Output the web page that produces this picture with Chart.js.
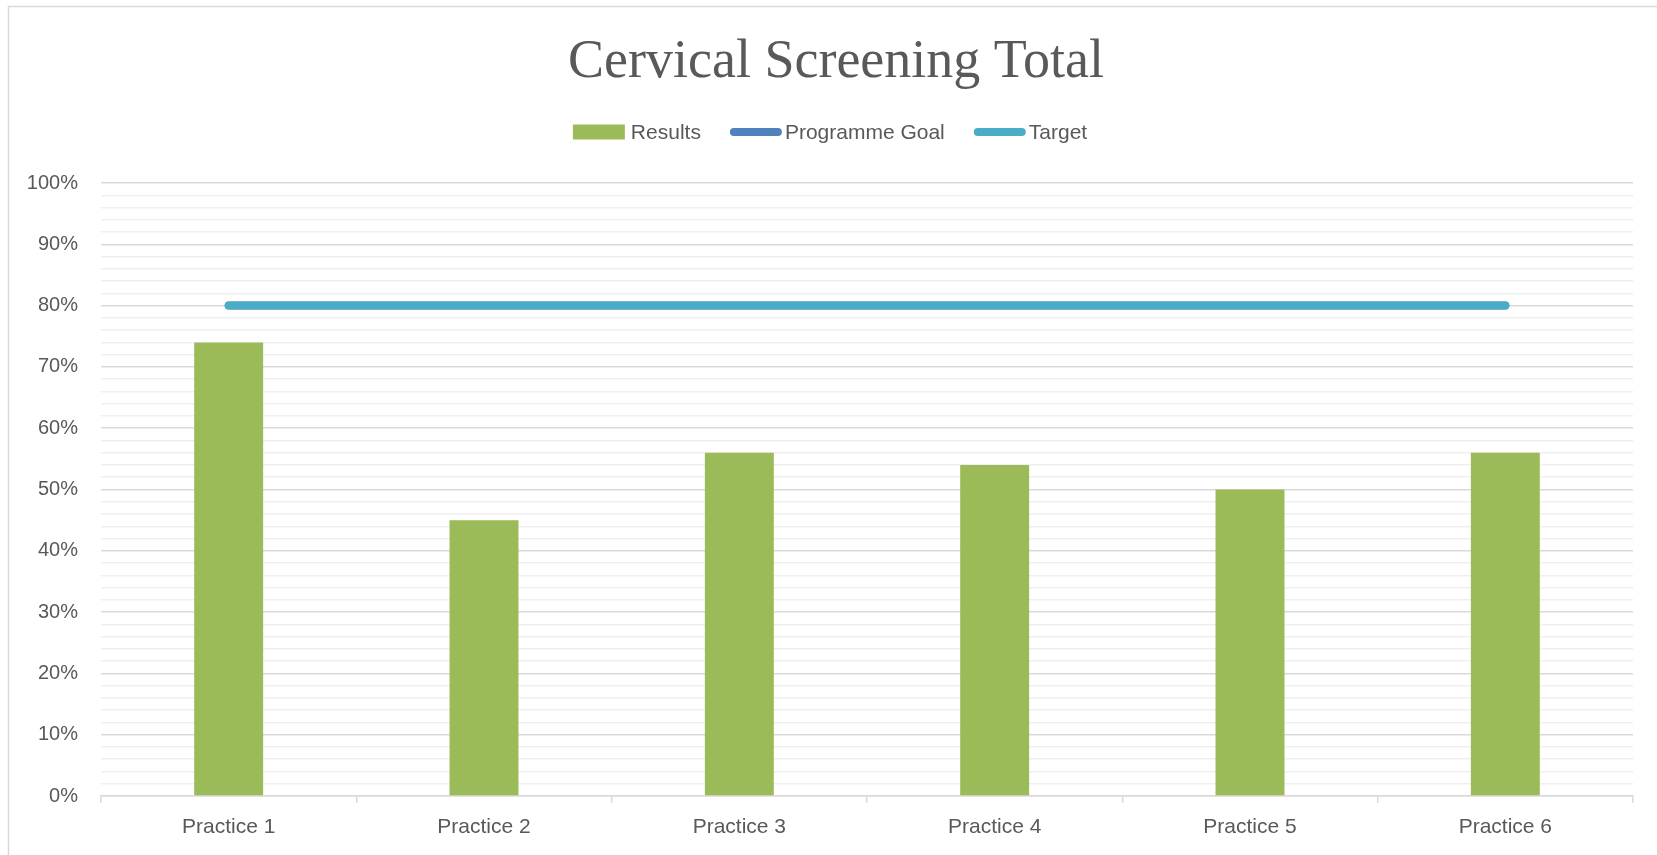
<!DOCTYPE html>
<html>
<head>
<meta charset="utf-8">
<script src="https://cdn.jsdelivr.net/npm/chart.js@4/dist/chart.umd.min.js"></script>
<style>
  html, body { margin: 0; padding: 0; background: #fff; }
  #wrap { width: 1657px; height: 855px; position: relative; }
</style>
</head>
<body>
<div id="wrap"><canvas id="screening"></canvas></div>
<script>
// data
const categories = ['Practice 1', 'Practice 2', 'Practice 3', 'Practice 4', 'Practice 5', 'Practice 6'];
const results = [74, 45, 56, 54, 50, 56];
const programmeGoal = [80, 80, 80, 80, 80, 80];
const target = [80, 80, 80, 80, 80, 80];
const yMin = 0, yMax = 100, yStep = 2, yLabelStep = 10;

const textColor = '#595959';
const sans = '"Liberation Sans", Arial, sans-serif';

// title, border + legend drawn by hand (legend mixes box and line swatches)
const chrome = {
  id: 'chrome',
  beforeDraw(chart) {
    const c = chart.ctx;
    c.save();
    c.fillStyle = '#fff';
    c.fillRect(0, 0, chart.width, chart.height);
    c.strokeStyle = '#d9d9d9';
    c.lineWidth = 1.5;
    c.strokeRect(8.5, 6.5, chart.width + 20, chart.height + 20);
    c.restore();
  },
  afterDraw(chart) {
    const c = chart.ctx;
    const cx = 836;
    c.save();
    // title
    c.fillStyle = textColor;
    c.font = '54px "Liberation Serif", "Times New Roman", serif';
    c.textAlign = 'center';
    c.textBaseline = 'alphabetic';
    c.fillText('Cervical Screening Total', cx, 77);

    // legend
    c.font = '21px ' + sans;
    c.textAlign = 'left';
    c.textBaseline = 'middle';
    const sw = 52, gapItem = 29, ly = 132;
    const items = chart.data.datasets.map(ds => ({ label: ds.label, color: ds.backgroundColor, type: ds.type || 'bar' }));
    let total = 0;
    items.forEach((it, i) => {
      it.w = c.measureText(it.label).width;
      it.gap = it.type === 'bar' ? 6 : 3;
      total += sw + it.gap + it.w + (i ? gapItem : 0);
    });
    let x = cx - 6 - total / 2;
    items.forEach((it, i) => {
      if (i) x += gapItem;
      if (it.type === 'bar') {
        c.fillStyle = it.color;
        c.fillRect(x, ly - 7.5, sw, 15);
      } else {
        c.strokeStyle = it.color;
        c.lineWidth = 8;
        c.lineCap = 'round';
        c.beginPath();
        c.moveTo(x + 4, ly);
        c.lineTo(x + sw - 4, ly);
        c.stroke();
      }
      x += sw + it.gap;
      c.fillStyle = textColor;
      c.fillText(it.label, x, ly + 1);
      x += it.w;
    });
    c.restore();
  }
};

const config = {
  type: 'bar',
  data: {
    labels: categories,
    datasets: [
      {
        label: 'Results',
        data: results,
        backgroundColor: '#9bbb59',
        borderWidth: 0,
        barPercentage: 0.27,
        categoryPercentage: 1,
        order: 3
      },
      {
        type: 'line',
        label: 'Programme Goal',
        data: programmeGoal,
        borderColor: '#4f81bd',
        backgroundColor: '#4f81bd',
        borderWidth: 8,
        borderCapStyle: 'round',
        pointRadius: 0,
        order: 2
      },
      {
        type: 'line',
        label: 'Target',
        data: target,
        borderColor: '#4bacc6',
        backgroundColor: '#4bacc6',
        borderWidth: 8,
        borderCapStyle: 'round',
        pointRadius: 0,
        order: 1
      }
    ]
  },
  options: {
    responsive: true,
    maintainAspectRatio: false,
    animation: false,
    layout: { padding: { top: 183, left: 0, right: 24, bottom: 0 } },
    plugins: {
      legend: { display: false },
      title: { display: false },
      tooltip: { enabled: false }
    },
    scales: {
      x: {
        offset: true,
        grid: {
          offset: true,
          drawOnChartArea: false,
          color: '#d9d9d9',
          tickLength: 7,
          lineWidth: 1.5
        },
        border: { color: '#d9d9d9', width: 1.5 },
        ticks: {
          color: textColor,
          font: { family: sans, size: 21 },
          padding: 12,
          maxRotation: 0
        },
        afterFit(scale) { scale.height = 59; }
      },
      y: {
        min: yMin,
        max: yMax,
        grid: {
          drawTicks: false,
          color: (ctx) => (ctx.tick && ctx.tick.value % yLabelStep === 0) ? '#d9d9d9' : '#efefef',
          lineWidth: 1.5
        },
        border: { display: false },
        ticks: {
          stepSize: yStep,
          autoSkip: false,
          maxTicksLimit: 100,
          padding: 23,
          color: textColor,
          font: { family: sans, size: 20 },
          callback: (v) => (v % yLabelStep === 0) ? v + '%' : ''
        },
        afterFit(scale) { scale.width = 101; }
      }
    }
  },
  plugins: [chrome]
};

const screeningChart = new Chart(document.getElementById('screening'), config);
</script>
</body>
</html>
